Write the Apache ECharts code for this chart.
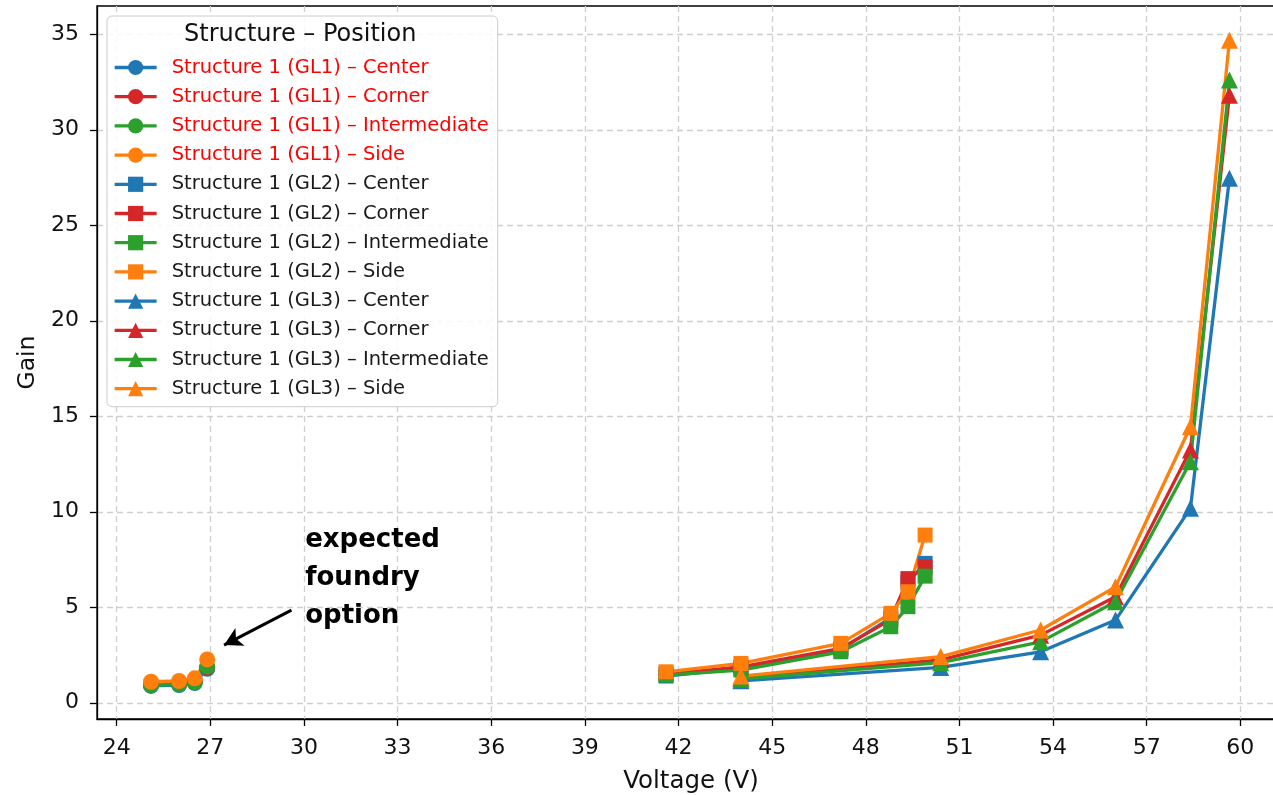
<!DOCTYPE html>
<html>
<head>
<meta charset="utf-8">
<script src="https://cdn.jsdelivr.net/npm/echarts@6/dist/echarts.min.js"></script>
<style>
html,body{margin:0;padding:0;background:#fff;}
#chart{width:1273px;height:795px;}
</style>
</head>
<body>
<div id="chart"></div>
<script>
// ---- data ----
const xTicks = [24, 27, 30, 33, 36, 39, 42, 45, 48, 51, 54, 57, 60];
const yTicks = [0, 5, 10, 15, 20, 25, 30, 35];

const gl1Voltage = [25.1, 26.0, 26.5, 26.9];
const gl1Center = [0.88, 0.93, 1.03, 1.78];
const gl1Corner = [0.95, 1.0, 1.1, 1.86];
const gl1Intermediate = [0.93, 0.97, 1.07, 1.9];
const gl1Side = [1.1, 1.14, 1.28, 2.27];

const gl2Voltage = [41.6, 44.0, 47.2, 48.8, 49.35, 49.9];
const gl2Center = [1.4, 1.8, 2.8, 4.45, 6.3, 7.3];
const gl2Corner = [1.5, 1.88, 2.85, 4.35, 6.5, 7.1];
const gl2Intermediate = [1.45, 1.71, 2.67, 3.98, 5.03, 6.63];
const gl2Side = [1.62, 2.06, 3.11, 4.68, 5.81, 8.78];

const gl3Voltage = [44.0, 50.4, 53.6, 56.0, 58.4, 59.65];
const gl3Center = [1.15, 1.85, 2.67, 4.33, 10.18, 27.46];
const gl3Corner = [1.3, 2.25, 3.54, 5.55, 13.23, 31.81];
const gl3Intermediate = [1.25, 2.1, 3.19, 5.29, 12.62, 32.6];
const gl3Side = [1.4, 2.42, 3.81, 6.07, 14.45, 34.69];

const annotationText = 'expected\nfoundry\noption';
const annotationAnchor = [30.04, 6.53];
const arrowFrom = [29.6, 4.85];
const arrowTo = [27.44, 3.02];

// ---- styling ----
const FONT = 'DejaVu Sans';
const colors = { Center: '#1f77b4', Corner: '#d62728', Intermediate: '#2ca02c', Side: '#ff7f0e' };
const positions = ['Center', 'Corner', 'Intermediate', 'Side'];

const groups = [
  { gl: 'GL1', v: gl1Voltage, vals: [gl1Center, gl1Corner, gl1Intermediate, gl1Side], symbol: 'circle', size: 16, highlight: true },
  { gl: 'GL2', v: gl2Voltage, vals: [gl2Center, gl2Corner, gl2Intermediate, gl2Side], symbol: 'rect', size: 15, highlight: false },
  { gl: 'GL3', v: gl3Voltage, vals: [gl3Center, gl3Corner, gl3Intermediate, gl3Side], symbol: 'triangle', size: 17, highlight: false }
];

const series = [];
const legendData = [];
groups.forEach(g => {
  positions.forEach((p, i) => {
    const name = 'Structure 1 (' + g.gl + ') \u2013 ' + p;
    legendData.push(g.highlight ? { name: name, textStyle: { color: '#ff0000' } } : { name: name });
    series.push({
      name: name,
      type: 'line',
      data: g.v.map((x, k) => [x, g.vals[i][k]]),
      symbol: g.symbol,
      symbolSize: g.size,
      showAllSymbol: true,
      color: colors[p],
      lineStyle: { width: 3.3, color: colors[p] },
      itemStyle: { color: colors[p] },
      emphasis: { disabled: true }
    });
  });
});

// annotation (text + arrow), in data coordinates
series.push({
  name: '__annotation',
  type: 'line',
  data: [],
  silent: true,
  markPoint: {
    silent: true,
    symbol: 'circle',
    symbolSize: 0,
    data: [{ coord: annotationAnchor }],
    label: {
      show: true,
      formatter: annotationText,
      position: 'right',
      distance: 0,
      color: '#000',
      fontFamily: '"Comic Sans MS", "DejaVu Sans"',
      fontWeight: 'bold',
      fontSize: 26,
      lineHeight: 38,
      align: 'left',
      verticalAlign: 'middle'
    }
  },
  markLine: {
    silent: true,
    symbol: ['none', 'arrow'],
    symbolSize: [15, 18],
    label: { show: false },
    lineStyle: { color: '#000', width: 3, type: 'solid' },
    data: [[{ coord: arrowFrom }, { coord: arrowTo }]]
  }
});

const chart = echarts.init(document.getElementById('chart'), null, { renderer: 'canvas' });
chart.setOption({
  animation: false,
  backgroundColor: '#ffffff',
  grid: {
    left: 97, right: -12, top: 6, bottom: 76,
    outerBoundsMode: 'none',
    containLabel: false,
    show: true, borderColor: '#000', borderWidth: 1.3, backgroundColor: 'transparent'
  },
  legend: {
    data: legendData,
    orient: 'vertical',
    left: 107,
    top: 16,
    padding: [41.5, 9, 8, 6],
    itemWidth: 42,
    itemHeight: 19,
    itemGap: 9.2,
    lineStyle: { width: 3.3 },
    backgroundColor: 'rgba(255,255,255,0.85)',
    borderColor: '#cccccc',
    borderWidth: 1,
    borderRadius: 5,
    selectedMode: false,
    textStyle: { fontFamily: FONT, fontSize: 19.5, color: '#1a1a1a', lineHeight: 19, padding: [0, 0, 0, 10] }
  },
  graphic: [{
    type: 'text',
    z: 100,
    left: 184,
    top: 23,
    style: { text: 'Structure \u2013 Position', font: '24px "DejaVu Sans"', fill: '#111' }
  }],
  xAxis: {
    type: 'value',
    min: 23.37,
    max: 61.43,
    minInterval: 3,
    maxInterval: 3,
    name: 'Voltage (V)',
    nameLocation: 'middle',
    nameGap: 50,
    nameTextStyle: { fontFamily: FONT, fontSize: 24.5, color: '#111' },
    axisLine: { onZero: false, lineStyle: { color: '#000', width: 1.3 } },
    axisTick: { show: true, length: 7, lineStyle: { color: '#000', width: 1.3 }, customValues: xTicks },
    axisLabel: { fontFamily: FONT, fontSize: 22, color: '#111', margin: 18, customValues: xTicks },
    splitLine: { show: true, lineStyle: { color: '#cfcfcf', width: 1.3, type: [6, 4] } }
  },
  yAxis: {
    type: 'value',
    min: -0.85,
    max: 36.48,
    minInterval: 5,
    maxInterval: 5,
    name: 'Gain',
    nameLocation: 'middle',
    nameGap: 57,
    nameRotate: 90,
    nameTextStyle: { fontFamily: FONT, fontSize: 23.5, color: '#111' },
    axisLine: { show: true, onZero: false, lineStyle: { color: '#000', width: 1.3 } },
    axisTick: { show: true, length: 7, lineStyle: { color: '#000', width: 1.3 }, customValues: yTicks },
    axisLabel: { fontFamily: FONT, fontSize: 22, color: '#111', margin: 18, customValues: yTicks },
    splitLine: { show: true, lineStyle: { color: '#cfcfcf', width: 1.3, type: [6, 4] } }
  },
  series: series
});
</script>
</body>
</html>
